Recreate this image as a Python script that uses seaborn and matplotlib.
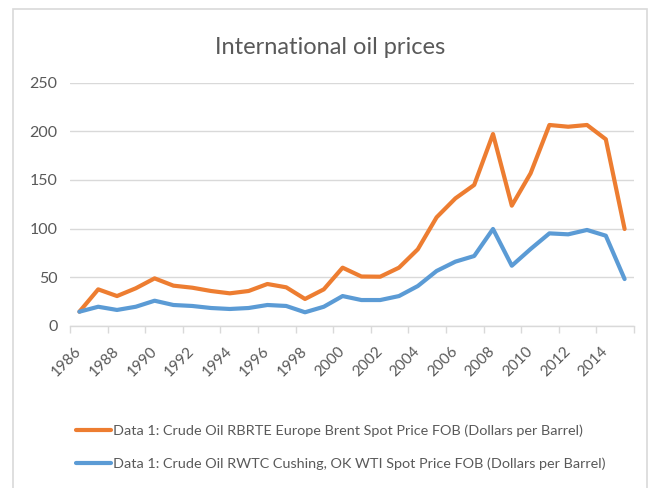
import matplotlib
matplotlib.use("Agg")
import numpy as np
import pandas as pd
import matplotlib.pyplot as plt
import seaborn as sns
from matplotlib.patches import Rectangle

years = list(range(1986, 2016))
brent = [14.4, 37.4, 30.5, 38.5, 48.7, 41.2, 39.1, 35.7, 33.3, 35.7,
         42.9, 39.5, 27.5, 37.4, 59.7, 50.6, 50.4, 59.7, 78.6, 111.5,
         131.0, 144.8, 197.2, 123.5, 156.8, 206.5, 204.7, 206.5, 191.8, 99.5]
wti = [14.4, 19.5, 16.2, 19.5, 25.7, 21.3, 20.3, 18.2, 17.2, 18.2,
       21.3, 20.3, 13.8, 19.5, 30.5, 26.4, 26.4, 30.5, 40.8, 56.3,
       65.9, 71.7, 99.5, 61.7, 78.9, 95.0, 94.0, 98.5, 92.6, 48.0]
labels = ["Data 1: Crude Oil RBRTE Europe Brent Spot Price FOB (Dollars per Barrel)",
          "Data 1: Crude Oil RWTC Cushing, OK WTI Spot Price FOB (Dollars per Barrel)"]
colors = ["#ED7D31", "#5B9BD5"]
y_ticks = [0, 50, 100, 150, 200, 250]

df = pd.DataFrame({
    "year": years * 2,
    "price": brent + wti,
    "series": [labels[0]] * len(years) + [labels[1]] * len(years),
})

sns.set_theme(style="white")
plt.rcParams['font.family'] = ['Lato', 'DejaVu Sans']
grey = "#595959"
light = "#d9d9d9"

W, H = 650, 488
fig = plt.figure(figsize=(W / 100, H / 100), dpi=100)
ax = fig.add_axes([70 / W, 1 - 325.7 / H, 564 / W, 243 / H])

sns.lineplot(data=df, x="year", y="price", hue="series", palette=colors,
             linewidth=3, ax=ax, solid_capstyle="round")

handles, labs = ax.get_legend_handles_labels()
ax.get_legend().remove()

ax.set_xlim(1985.5, 2015.5)
ax.set_ylim(0, 250)
ax.set_yticks(y_ticks)
ax.set_xticks(years[::2])
ax.set_xticklabels([str(y) for y in years[::2]], rotation=45, ha="right",
                   va="center", rotation_mode="anchor")
ax.set_xticks(np.arange(1985.5, 2016, 2), minor=True)
ax.tick_params(axis="x", which="major", length=0, pad=17, labelsize=11, labelcolor=grey)
ax.tick_params(axis="x", which="minor", length=5, width=1, color=light, bottom=True)
ax.tick_params(axis="y", length=0, pad=9, labelsize=11.5, labelcolor=grey)
ax.set_xlabel("")
ax.set_ylabel("")
ax.grid(axis="y", color=light, linewidth=1)
ax.grid(axis="x", visible=False)
ax.set_axisbelow(True)
for s in ["top", "left", "right"]:
    ax.spines[s].set_visible(False)
ax.spines["bottom"].set_color(light)
ax.spines["bottom"].set_linewidth(1)

fig.text(330 / W, 1 - 47 / H, "International oil prices", ha="center", va="center",
         fontsize=17, color=grey)

fig.legend(handles, labs, loc="upper left", bbox_to_anchor=(69 / W, 1 - 417 / H),
           frameon=False, fontsize=10.4, handlelength=2.4, handletextpad=0.15,
           labelspacing=1.45, borderpad=0, labelcolor=grey)

fig.patches.append(Rectangle((13 / W, -0.05), 634 / W, (H - 9) / H + 0.05,
                             transform=fig.transFigure, fill=False,
                             edgecolor=light, linewidth=1.2))

fig.savefig("out.png", dpi=100)
